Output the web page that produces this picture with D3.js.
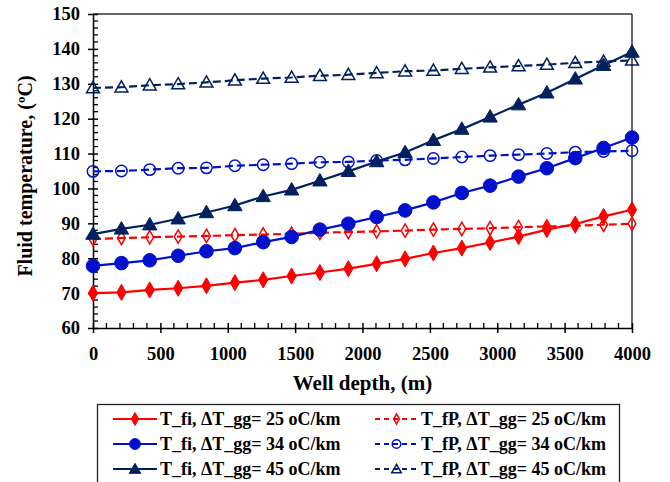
<!DOCTYPE html>
<html>
<head>
<meta charset="utf-8">
<script src="https://cdn.jsdelivr.net/npm/d3@7"></script>
<style>
  html, body { margin: 0; padding: 0; background: #fff; }
  svg { display: block; }
</style>
</head>
<body>
<svg id="chart" width="670" height="482"></svg>
<script>
// ---- data ----
const depths = [0, 211, 421, 632, 842, 1053, 1263, 1474, 1684, 1895, 2105, 2316, 2526, 2737, 2947, 3158, 3368, 3579, 3789, 4000];
const Tfi25 = [70.0, 70.2, 70.9, 71.4, 72.1, 73.0, 73.8, 74.9, 75.9, 77.0, 78.4, 79.8, 81.5, 82.9, 84.5, 86.2, 88.2, 89.8, 92.0, 93.9];
const TfP25 = [85.5, 85.8, 86.0, 86.2, 86.4, 86.6, 86.8, 87.0, 87.3, 87.5, 87.7, 87.9, 88.2, 88.4, 88.6, 88.9, 89.1, 89.3, 89.6, 89.9];
const Tfi34 = [77.8, 78.6, 79.4, 80.7, 82.0, 82.9, 84.6, 86.1, 88.2, 89.9, 91.8, 93.7, 96.0, 98.7, 100.8, 103.4, 105.8, 108.7, 111.6, 114.6];
const TfP34 = [104.9, 105.0, 105.4, 105.8, 105.9, 106.5, 106.8, 107.1, 107.5, 107.6, 108.0, 108.2, 108.6, 109.0, 109.4, 109.7, 110.0, 110.4, 110.6, 110.8];
const Tfi45 = [86.9, 88.4, 89.6, 91.3, 93.1, 95.1, 97.7, 99.6, 102.2, 104.9, 107.7, 110.3, 113.8, 117.0, 120.5, 124.0, 127.4, 131.4, 135.3, 139.1];
const TfP45 = [128.8, 129.0, 129.6, 129.9, 130.4, 131.0, 131.5, 131.8, 132.3, 132.6, 133.1, 133.6, 133.8, 134.3, 134.7, 135.1, 135.5, 136.0, 136.4, 136.7];
const xTicks = [0, 500, 1000, 1500, 2000, 2500, 3000, 3500, 4000];
const yTicks = [60, 70, 80, 90, 100, 110, 120, 130, 140, 150];
const seriesNames = [
  "T_fi, \u0394T_gg= 25 oC/km", "T_fP, \u0394T_gg= 25 oC/km",
  "T_fi, \u0394T_gg= 34 oC/km", "T_fP, \u0394T_gg= 34 oC/km",
  "T_fi, \u0394T_gg= 45 oC/km", "T_fP, \u0394T_gg= 45 oC/km"
];
const xTitle = "Well depth, (m)";
const yTitle = "Fluid temperature, (\u00BAC)";

// ---- styles ----
const FONT = "'Liberation Serif', 'Times New Roman', serif";
const RED = "#ff0000", BLUE = "#0010cc", NAVY = "#002060";
const series = [
  { name: seriesNames[1], values: TfP25, color: RED,  dashed: true,  marker: "diamond",  filled: false },
  { name: seriesNames[3], values: TfP34, color: BLUE, dashed: true,  marker: "circle",   filled: false },
  { name: seriesNames[5], values: TfP45, color: NAVY, dashed: true,  marker: "triangle", filled: false },
  { name: seriesNames[0], values: Tfi25, color: RED,  dashed: false, marker: "diamond",  filled: true },
  { name: seriesNames[2], values: Tfi34, color: BLUE, dashed: false, marker: "circle",   filled: true },
  { name: seriesNames[4], values: Tfi45, color: NAVY, dashed: false, marker: "triangle", filled: true }
];

const svg = d3.select("#chart").attr("font-family", FONT).attr("font-weight", "bold");
const m = { left: 93, right: 38, top: 14, bottom: 154 };
const W = 670 - m.left - m.right, H = 482 - m.top - m.bottom;
const g = svg.append("g").attr("transform", `translate(${m.left},${m.top})`);

const x = d3.scaleLinear().domain([0, 4000]).range([0, W]);
const y = d3.scaleLinear().domain([60, 150]).range([H, 0]);

// frame top/right
g.append("line").attr("x1", 0).attr("x2", W).attr("y1", 0).attr("y2", 0).attr("stroke", "#333").attr("stroke-width", 1.5);
g.append("line").attr("x1", W).attr("x2", W).attr("y1", 0).attr("y2", H).attr("stroke", "#333").attr("stroke-width", 1.5);

// minor ticks (inward)
const xMinor = d3.range(0, 4001, 100).filter(v => v % 500 !== 0);
g.append("g").selectAll("line").data(xMinor).join("line")
  .attr("x1", d => x(d)).attr("x2", d => x(d)).attr("y1", H).attr("y2", H - 5)
  .attr("stroke", "#000").attr("stroke-width", 1.3);
const yMinor = d3.range(60, 150.1, 2).filter(v => v % 10 !== 0);
g.append("g").selectAll("line").data(yMinor).join("line")
  .attr("x1", 0).attr("x2", 5).attr("y1", d => y(d)).attr("y2", d => y(d))
  .attr("stroke", "#000").attr("stroke-width", 1.3);

// axes
const xAxis = g.append("g").attr("transform", `translate(0,${H})`)
  .call(d3.axisBottom(x).tickValues(xTicks).tickFormat(d3.format("d")).tickSize(5).tickSizeOuter(0).tickPadding(14));
const yAxis = g.append("g")
  .call(d3.axisLeft(y).tickValues(yTicks).tickFormat(d3.format("d")).tickSize(5).tickSizeOuter(0).tickPadding(8));
[xAxis, yAxis].forEach(a => {
  a.attr("font-family", FONT).attr("font-size", null);
  a.select(".domain").attr("stroke", "#000").attr("stroke-width", 1.5);
  a.selectAll(".tick line").attr("stroke", "#000").attr("stroke-width", 1.5);
  a.selectAll(".tick text").attr("fill", "#000").attr("font-family", FONT).attr("font-weight", "bold")
    .attr("font-size", "18.5px");
});
// major ticks crossing axis
xAxis.selectAll(".tick line").attr("y1", -5).attr("y2", 5);
yAxis.selectAll(".tick line").attr("x1", 5).attr("x2", -5);

// titles
svg.append("text").attr("x", m.left + W / 2).attr("y", 390).attr("text-anchor", "middle")
  .attr("font-family", FONT).attr("font-size", "21px").text(xTitle);
svg.append("text").attr("transform", `translate(32,${m.top + H / 2 + 5}) rotate(-90)`).attr("text-anchor", "middle")
  .attr("font-family", FONT).attr("font-size", "20px").text(yTitle);

// marker drawing
function drawMarker(sel, type, filled, color, cx, cy, scale = 1) {
  let node;
  if (type === "circle") {
    node = sel.append("circle").attr("cx", cx).attr("cy", cy).attr("r", (filled ? 6.8 : 5.7) * scale);
  } else {
    const sym = type === "diamond" ? d3.symbolDiamond : d3.symbolTriangle;
    const size = type === "diamond" ? (filled ? 75 : 52) : (filled ? 90 : 72);
    node = sel.append("path").attr("d", d3.symbol().type(sym).size(size * scale * scale)())
      .attr("transform", `translate(${cx},${cy + (type === "triangle" ? 1 : 0)})`);
  }
  node.attr("fill", filled ? color : "none").attr("stroke", color).attr("stroke-width", filled ? 1 : 1.5);
}

const line = d3.line().x((d, i) => x(depths[i])).y(d => y(d));
series.forEach(s => {
  const sg = g.append("g");
  sg.append("path").datum(s.values).attr("d", line).attr("fill", "none")
    .attr("stroke", s.color).attr("stroke-width", 2.2)
    .attr("stroke-dasharray", s.dashed ? "8,4" : null);
  s.values.forEach((v, i) => drawMarker(sg, s.marker, s.filled, s.color, x(depths[i]), y(v)));
});

// legend
const lg = svg.append("g");
lg.append("rect").attr("x", 97.5).attr("y", 404.5).attr("width", 522).attr("height", 100)
  .attr("fill", "#fff").attr("stroke", "#222").attr("stroke-width", 1.3);
const legendOrder = [
  [series[3], series[0]],
  [series[4], series[1]],
  [series[5], series[2]]
];
const colX = [[113, 157, 160], [375, 418, 421]];
legendOrder.forEach((row, r) => {
  const yy = 419 + r * 25;
  row.forEach((s, c) => {
    const [x1, x2, tx] = colX[c];
    lg.append("line").attr("x1", x1).attr("x2", x2).attr("y1", yy).attr("y2", yy)
      .attr("stroke", s.color).attr("stroke-width", 2.2).attr("stroke-dasharray", s.dashed ? "5,4" : null);
    drawMarker(lg, s.marker, s.filled, s.color, (x1 + x2) / 2, yy, s.filled ? 0.8 : 0.75);
    lg.append("text").attr("x", tx).attr("y", yy + 6).attr("font-family", FONT).attr("font-size", "18px").text(s.name);
  });
});
</script>
</body>
</html>
